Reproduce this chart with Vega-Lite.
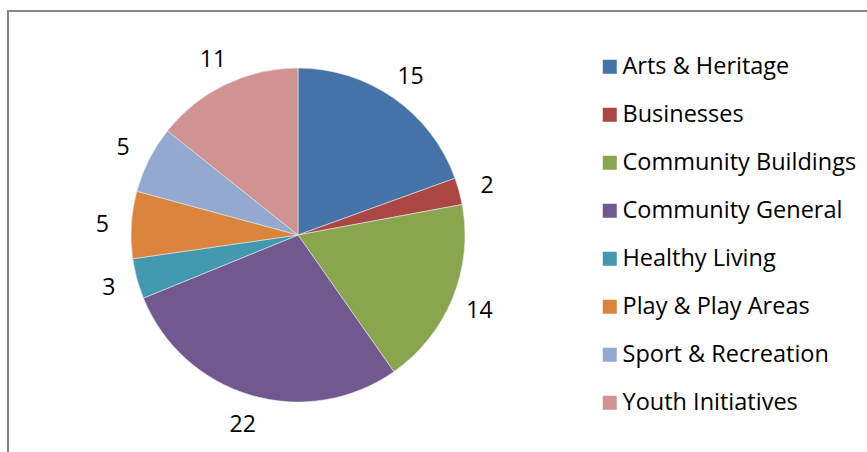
{
  "$schema": "https://vega.github.io/schema/vega-lite/v6.json",
  "width": 870,
  "height": 448,
  "autosize": {"type": "none"},
  "padding": {"left": 8, "top": 11, "right": 0, "bottom": 0},
  "background": "white",
  "view": {"stroke": "#868686", "strokeWidth": 2},
  "config": {
    "font": "Open Sans"
  },
  "data": {
    "values": [
      {"category": "Arts & Heritage", "count": 15, "order": 1},
      {"category": "Businesses", "count": 2, "order": 2},
      {"category": "Community Buildings", "count": 14, "order": 3},
      {"category": "Community General", "count": 22, "order": 4},
      {"category": "Healthy Living", "count": 3, "order": 5},
      {"category": "Play & Play Areas", "count": 5, "order": 6},
      {"category": "Sport & Recreation", "count": 5, "order": 7},
      {"category": "Youth Initiatives", "count": 11, "order": 8}
    ]
  },
  "encoding": {
    "theta": {"field": "count", "type": "quantitative", "stack": true},
    "order": {"field": "order", "type": "quantitative"}
  },
  "layer": [
    {
      "mark": {"type": "arc", "outerRadius": 167, "x": 290, "y": 224, "stroke": "#e8e8e8", "strokeWidth": 0.6},
      "encoding": {
        "color": {
          "field": "category",
          "type": "nominal",
          "scale": {
            "domain": ["Arts & Heritage", "Businesses", "Community Buildings", "Community General", "Healthy Living", "Play & Play Areas", "Sport & Recreation", "Youth Initiatives"],
            "range": ["#4572A7", "#AA4643", "#89A54E", "#71588F", "#4198AF", "#DB843D", "#93A9CF", "#D19392"]
          },
          "legend": {
            "title": null,
            "orient": "none",
            "legendX": 590,
            "legendY": 44,
            "symbolType": "square",
            "symbolSize": 196,
            "symbolStrokeWidth": 0,
            "labelFontSize": 23.5,
            "labelColor": "#000000",
            "labelFont": "Open Sans",
            "labelOffset": 1,
            "rowPadding": 23,
            "labelLimit": 300
          }
        }
      }
    },
    {
      "mark": {"type": "text", "radius": 196, "x": 290, "y": 224, "dy": 2, "fontSize": 23, "color": "#000000", "font": "Open Sans"},
      "encoding": {
        "text": {"field": "count", "type": "quantitative"}
      }
    }
  ]
}
